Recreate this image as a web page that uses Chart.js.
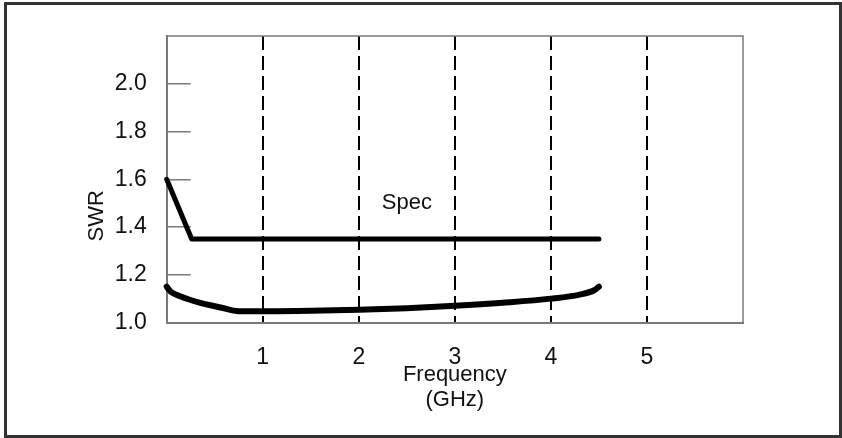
<!DOCTYPE html>
<html>
<head>
<meta charset="utf-8">
<script src="https://cdn.jsdelivr.net/npm/chart.js@4"></script>
<style>
  body { margin: 0; background: #fff; }
  #wrap { position: relative; width: 842px; height: 438px; }
  #frame {
    position: absolute; left: 4px; top: 2px; width: 832px; height: 430px;
    border: 3px solid #333; pointer-events: none;
  }
</style>
</head>
<body>
<div id="wrap">
  <canvas id="chart" width="842" height="438"></canvas>
  <div id="frame"></div>
</div>
<script>
const xTicks = [0, 1, 2, 3, 4, 5, 6];
const yTicks = [1.0, 1.2, 1.4, 1.6, 1.8, 2.0];

const specX = [0, 0.26, 4.5];
const specY = [1.6, 1.35, 1.35];

const swrX = [0, 0.04, 0.14, 0.35, 0.56, 0.75, 1, 1.5, 2, 2.5, 3, 3.5, 4, 4.3, 4.45, 4.5];
const swrY = [1.15, 1.13, 1.11, 1.082, 1.063, 1.047, 1.047, 1.049, 1.053, 1.06, 1.07, 1.083, 1.1, 1.117, 1.135, 1.15];

const toPoints = (xs, ys) => xs.map((x, i) => ({ x: x, y: ys[i] }));

const font = "'Liberation Sans', Arial, sans-serif";
const axisGray = "#7a7a7a";

// plot frame, y title and the "Spec" label
const extras = {
  id: "extras",
  beforeDatasetsDraw: (chart) => {
    const { ctx, chartArea } = chart;
    ctx.save();
    ctx.strokeStyle = axisGray;
    ctx.lineWidth = 1.5;
    ctx.beginPath();
    ctx.moveTo(chartArea.left, chartArea.top);
    ctx.lineTo(chartArea.right, chartArea.top);
    ctx.lineTo(chartArea.right, chartArea.bottom);
    ctx.stroke();
    ctx.restore();
  },
  afterDraw: (chart) => {
    const ctx = chart.ctx;
    const xs = chart.scales.x;
    const ys = chart.scales.y;
    ctx.save();
    ctx.fillStyle = "#111";
    ctx.font = "22px " + font;
    ctx.textAlign = "center";
    ctx.textBaseline = "middle";
    ctx.fillText("Spec", xs.getPixelForValue(2.5), ys.getPixelForValue(1.5));
    ctx.translate(97, ys.getPixelForValue(1.447));
    ctx.rotate(-Math.PI / 2);
    ctx.fillText("SWR", 0, 0);
    ctx.restore();
  },
};

const mycharts = document.querySelector("#chart");
const myChart = new Chart(mycharts, {
  type: "scatter",
  data: {
    datasets: [
      {
        label: "Spec",
        data: toPoints(specX, specY),
        showLine: true,
        borderColor: "#000",
        borderWidth: 5,
        borderCapStyle: "round",
        borderJoinStyle: "round",
        pointRadius: 0,
        tension: 0,
        clip: 10,
      },
      {
        label: "SWR",
        data: toPoints(swrX, swrY),
        showLine: true,
        borderColor: "#000",
        borderWidth: 6,
        borderCapStyle: "round",
        pointRadius: 0,
        cubicInterpolationMode: "monotone",
        clip: 10,
      },
    ],
  },
  options: {
    responsive: false,
    animation: false,
    layout: { padding: { top: 36, right: 99, left: 0, bottom: 0 } },
    plugins: { legend: { display: false }, tooltip: { enabled: false } },
    scales: {
      x: {
        type: "linear",
        min: 0,
        max: 6,
        afterBuildTicks: (scale) => {
          scale.ticks = xTicks.map((v) => ({ value: v }));
        },
        afterFit: (scale) => {
          scale.height = 115.5;
          scale.paddingLeft = 0;
          scale.paddingRight = 0;
        },
        ticks: {
          padding: 21,
          color: "#111",
          font: { family: font, size: 23 },
          maxRotation: 0,
          callback: (v) => (v === 0 || v === 6 ? "" : String(v)),
        },
        grid: {
          drawTicks: false,
          lineWidth: 2,
          color: (ctx) =>
            ctx.tick && (ctx.tick.value === 0 || ctx.tick.value === 6)
              ? "rgba(0,0,0,0)"
              : "#000",
        },
        border: { color: axisGray, width: 2, dash: [14, 6] },
        title: {
          display: true,
          text: ["Frequency", "(GHz)"],
          color: "#111",
          font: { family: font, size: 22, lineHeight: 1.15 },
          padding: { top: 0, bottom: 25 },
        },
      },
      y: {
        type: "linear",
        min: 1.0,
        max: 2.2,
        afterBuildTicks: (scale) => {
          scale.ticks = yTicks.map((v) => ({ value: v }));
        },
        afterFit: (scale) => {
          scale.width = 166.7;
          scale.paddingTop = 0;
          scale.paddingBottom = 0;
        },
        ticks: {
          padding: 44,
          color: "#111",
          font: { family: font, size: 23 },
          callback: (v) => v.toFixed(1),
        },
        grid: {
          drawOnChartArea: false,
          drawTicks: true,
          tickLength: -24,
          lineWidth: 1.5,
          color: axisGray,
        },
        border: { color: axisGray, width: 2 },
      },
    },
  },
  plugins: [extras],
});
</script>
</body>
</html>
